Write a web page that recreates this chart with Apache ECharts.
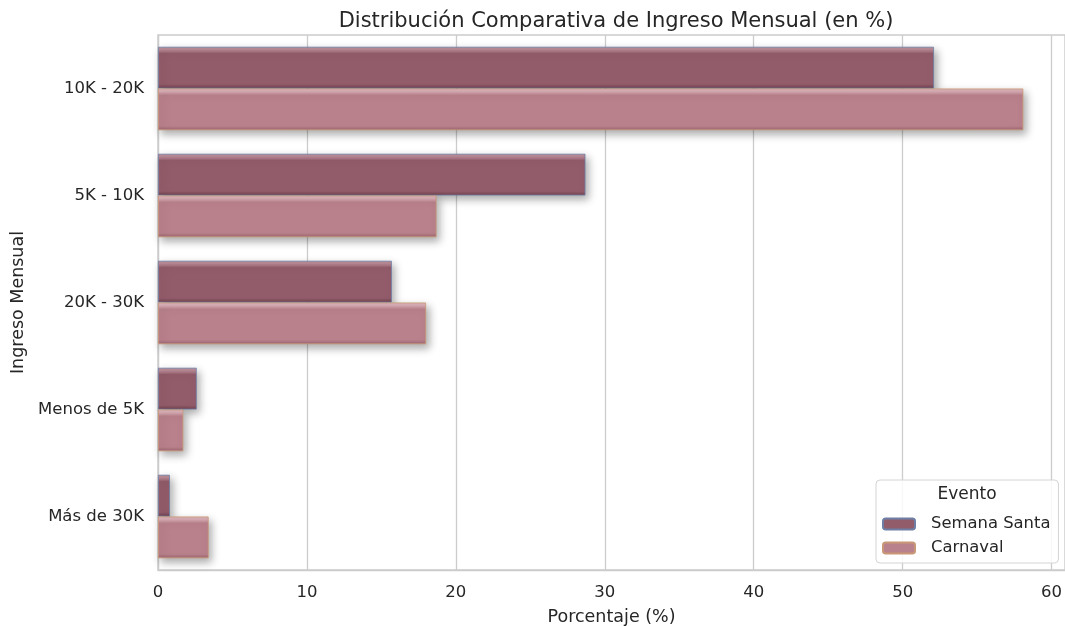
<!DOCTYPE html>
<html>
<head>
<meta charset="utf-8">
<script src="https://cdn.jsdelivr.net/npm/echarts@6/dist/echarts.min.js"></script>
<style>
  html, body { margin: 0; padding: 0; background: #ffffff; }
  #chart { width: 1065px; height: 626px; }
</style>
</head>
<body>
<div id="chart"></div>
<script>
// Income brackets, ordered top to bottom
const categories = ['10K - 20K', '5K - 10K', '20K - 30K', 'Menos de 5K', 'Más de 30K'];
// Share of respondents per bracket (%)
const semanaSanta = [52.1, 28.7, 15.7, 2.6, 0.8];
const carnaval = [58.1, 18.7, 18.0, 1.7, 3.4];
const seriesNames = ['Semana Santa', 'Carnaval'];
const xTicks = [0, 10, 20, 30, 40, 50, 60];

const FONT = 'DejaVu Sans';
const TEXT = '#262626';
const GRID = '#cccccc';

// Vertical gradient that gives each bar a bevelled top/bottom edge
function bevel(light, mid, base, dark) {
  return new echarts.graphic.LinearGradient(0, 0, 0, 1, [
    { offset: 0, color: light },
    { offset: 0.06, color: light },
    { offset: 0.12, color: mid },
    { offset: 0.16, color: base },
    { offset: 0.9, color: base },
    { offset: 1, color: dark }
  ]);
}

const chart = echarts.init(document.getElementById('chart'), null, { renderer: 'canvas' });

const xMax = 60.9;

chart.setOption({
  backgroundColor: '#ffffff',
  animation: false,
  title: {
    text: 'Distribución Comparativa de Ingreso Mensual (en %)',
    left: 611,
    textAlign: 'center',
    top: 6,
    textStyle: { fontFamily: FONT, fontSize: 21, fontWeight: 'normal', color: TEXT }
  },
  grid: {
    left: 158, right: 0, top: 35, bottom: 56, containLabel: false,
    outerBoundsMode: 'none',
    show: true, borderColor: GRID, borderWidth: 1.3, backgroundColor: 'transparent'
  },
  xAxis: {
    type: 'value',
    min: 0,
    max: xMax,
    interval: 10,
    name: 'Porcentaje (%)',
    nameLocation: 'middle',
    nameGap: 38,
    nameTextStyle: { fontFamily: FONT, fontSize: 17.5, color: TEXT },
    axisLine: { show: true, lineStyle: { color: GRID, width: 1.3 } },
    axisTick: { show: false },
    axisLabel: {
      fontFamily: FONT, fontSize: 16.5, color: TEXT, margin: 14,
      showMaxLabel: false,
      formatter: v => (xTicks.indexOf(v) >= 0 ? String(v) : '')
    },
    splitLine: { show: true, lineStyle: { color: GRID, width: 1.3 } }
  },
  yAxis: {
    type: 'category',
    data: categories,
    inverse: true,
    name: 'Ingreso Mensual',
    nameLocation: 'middle',
    nameGap: 131,
    nameRotate: 90,
    nameTextStyle: { fontFamily: FONT, fontSize: 17.5, color: TEXT },
    axisLine: { show: true, lineStyle: { color: GRID, width: 1.3 } },
    axisTick: { show: false },
    axisLabel: { fontFamily: FONT, fontSize: 16.5, color: TEXT, margin: 14 },
    splitLine: { show: false }
  },
  legend: {
    orient: 'vertical',
    left: 876,
    top: 480,
    width: 182,
    padding: [36, 8, 7, 6],
    itemWidth: 32,
    itemHeight: 11,
    itemGap: 8,
    backgroundColor: 'rgba(255,255,255,0.85)',
    borderColor: '#d4d4d4',
    borderWidth: 1,
    borderRadius: 4,
    textStyle: { fontFamily: FONT, fontSize: 16.4, color: TEXT, padding: [0, 0, 0, 11] },
    data: seriesNames
  },
  graphic: [{
    type: 'text',
    z: 200,
    x: 967,
    y: 495,
    style: {
      text: 'Evento', fontFamily: FONT, fontSize: 17, fill: TEXT,
      align: 'center', verticalAlign: 'middle'
    }
  }],
  series: [
    {
      name: seriesNames[0],
      type: 'bar',
      data: semanaSanta,
      barGap: '0%',
      barCategoryGap: '22%',
      itemStyle: {
        color: bevel('#b98a96', '#a67381', '#935c6a', '#744150'),
        borderColor: '#6d7fa6',
        borderWidth: 0.8,
        shadowColor: 'rgba(0,0,0,0.33)',
        shadowBlur: 8,
        shadowOffsetX: 3,
        shadowOffsetY: 4
      }
    },
    {
      name: seriesNames[1],
      type: 'bar',
      data: carnaval,
      barGap: '0%',
      barCategoryGap: '22%',
      itemStyle: {
        color: bevel('#d8aeb6', '#c8959e', '#b9818b', '#9c6470'),
        borderColor: '#c99775',
        borderWidth: 0.8,
        shadowColor: 'rgba(0,0,0,0.33)',
        shadowBlur: 8,
        shadowOffsetX: 3,
        shadowOffsetY: 4
      }
    }
  ]
});
</script>
</body>
</html>
